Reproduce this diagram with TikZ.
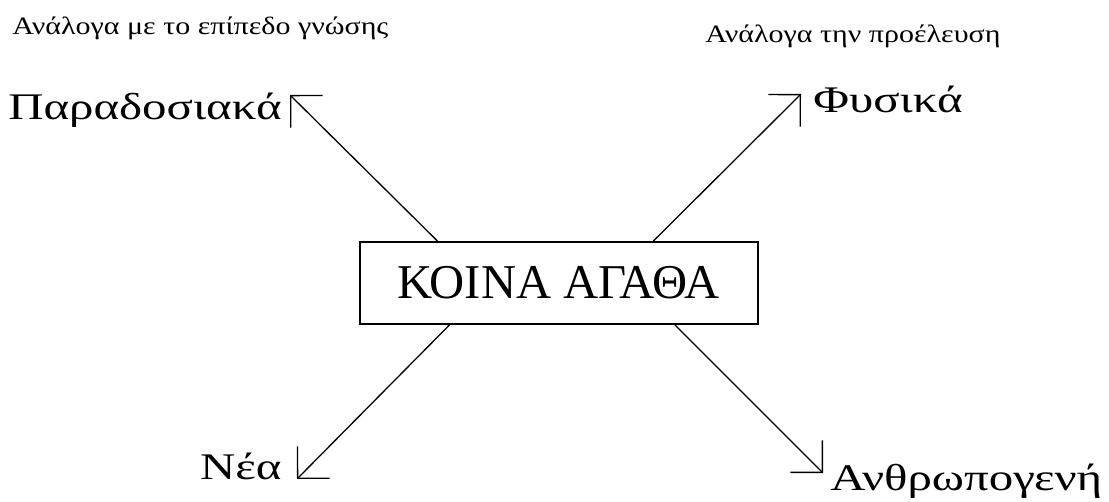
\documentclass[tikz,border=0pt]{standalone}
\usepackage{fontspec}
\newfontfamily\hdrfont[FakeStretch=1.2]{Liberation Serif}
\newfontfamily\lblfont[FakeStretch=1.3]{Liberation Serif}
\newfontfamily\boxfont{Liberation Serif}
\usetikzlibrary{arrows.meta,calc,positioning}

\tikzset{
  hdr/.style={inner sep=0pt, font=\hdrfont\fontsize{12.5}{15}\selectfont},
  lbl/.style={inner sep=0pt, font=\lblfont\fontsize{18.8}{22}\selectfont},
  agatha/.style={draw, line width=1pt, minimum width=199pt, minimum height=41pt,
    inner sep=0pt, font=\boxfont\fontsize{24.3}{29}\selectfont},
  barb/.style={line width=0.65pt, -{Straight Barb[angle=90:16pt]}}
}

\begin{document}
\begin{tikzpicture}[x=0.5pt, y=-0.5pt]
    \useasboundingbox (0,0) rectangle (1109,502);

    % headers
    \node[hdr, anchor=base west] (hleft) at (12,35) {Ανάλογα με το επίπεδο γνώσης};
    \node[hdr, anchor=base west] (hright) at (705,43) {Ανάλογα την προέλευση};

    % centre box
    \node[agatha] (agatha) at (559,283) {ΚΟΙΝΑ ΑΓΑΘΑ};

    % labels
    \node[lbl, anchor=base east] (para) at (282,120) {Παραδοσιακά};
    \node[lbl, anchor=base west] (fys) at (813,113) {Φυσικά};
    \node[lbl, anchor=base east] (nea) at (282,480) {Νέα};
    \node[lbl, anchor=base west] (anthr) at (830,490) {Ανθρωπογενή};

    % arrow tips
    \coordinate (tipul) at (290,95);
    \coordinate (tipur) at (801,94);
    \coordinate (tipll) at (297,479);
    \coordinate (tiplr) at (823,473);

    % where the lines leave the box
    \coordinate (ul) at ($(agatha.north west)!0.196!(agatha.north east)$);
    \coordinate (ur) at ($(agatha.north west)!0.736!(agatha.north east)$);
    \coordinate (ll) at ($(agatha.south west)!0.226!(agatha.south east)$);
    \coordinate (lr) at ($(agatha.south west)!0.79!(agatha.south east)$);

    \draw[barb] (ul) -- (tipul);
    \draw[barb] (ur) -- (tipur);
    \draw[barb] (ll) -- (tipll);
    \draw[barb] (lr) -- (tiplr);
\end{tikzpicture}
\end{document}
